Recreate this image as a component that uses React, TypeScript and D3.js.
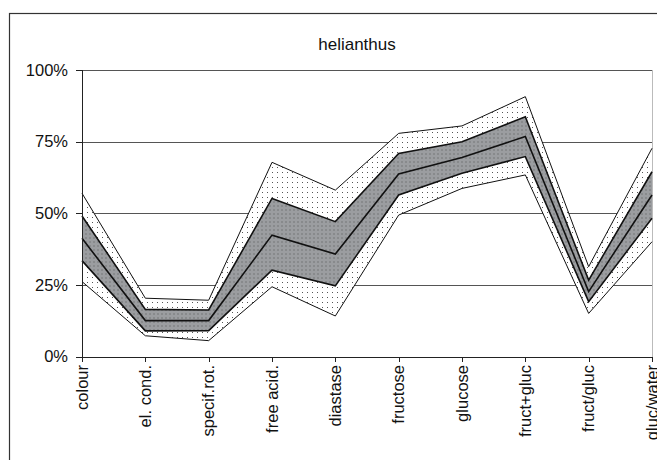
import React from "react";
import * as d3 from "d3";

const title = "helianthus";
const categories = ["colour", "el. cond.", "specif.rot.", "free acid.", "diastase", "fructose", "glucose", "fruct+gluc", "fruct/gluc", "gluc/water"];
const minVals = [26.2, 7.3, 5.6, 24.4, 14.2, 49.4, 58.7, 63.4, 15.1, 40.1];
const q1Vals = [33.5, 9.0, 9.1, 30.2, 24.7, 56.4, 64.0, 69.8, 19.2, 48.3];
const medVals = [41.3, 12.6, 12.6, 42.4, 35.8, 63.7, 69.5, 76.8, 22.7, 56.4];
const q3Vals = [49.1, 16.5, 16.3, 55.2, 47.1, 70.9, 75.0, 83.7, 26.7, 64.5];
const maxVals = [57.0, 20.4, 19.7, 67.8, 58.1, 77.9, 80.5, 90.7, 31.4, 72.7];
const yTicks = [0, 25, 50, 75, 100];

const W = 657, H = 460;
const FONT = "Liberation Sans, Arial, sans-serif";

export default function App() {
  const x = d3.scalePoint<string>().domain(categories).range([82, 652]);
  const y = d3.scaleLinear().domain([0, 100]).range([356.7, 70]);
  const area = (lo: number[], hi: number[]) =>
    d3.area<number>()
      .x((_, i) => x(categories[i]) as number)
      .y0((_, i) => y(lo[i]))
      .y1((_, i) => y(hi[i]))(lo.map((_, i) => i)) || "";
  const line = (v: number[]) =>
    d3.line<number>().x((_, i) => x(categories[i]) as number).y((d) => y(d))(v) || "";

  return (
    <svg width={W} height={H} style={{ position: "absolute", left: 0, top: 0, background: "#fff" }}>
      <defs>
        <pattern id="dotsW" width="5" height="5" patternUnits="userSpaceOnUse">
          <rect width="5" height="5" fill="#fff" />
          <rect x="2" y="2" width="1" height="1" fill="#555" />
        </pattern>
        <pattern id="dotsG" width="4" height="4" patternUnits="userSpaceOnUse">
          <rect width="4" height="4" fill="#9b9da0" />
          <rect x="1.5" y="1.5" width="1" height="1" fill="#505050" />
        </pattern>
      </defs>
      <rect x={9.5} y={13.5} width={700} height={500} fill="#fff" stroke="#333" strokeWidth={1.2} />
      <text x={357} y={50} textAnchor="middle" fontFamily={FONT} fontSize={17} fill="#111">{title}</text>
      {yTicks.map((t) => (
        <g key={t}>
          <line x1={82} x2={652} y1={Math.round(y(t)) + 0.5} y2={Math.round(y(t)) + 0.5} stroke={t === 0 ? "#222" : "#555"} strokeWidth={1} />
          <line x1={76} x2={82} y1={Math.round(y(t)) + 0.5} y2={Math.round(y(t)) + 0.5} stroke="#222" />
          <text x={68} y={y(t)} dy="0.35em" textAnchor="end" fontFamily={FONT} fontSize={16.5} fill="#111">{t}%</text>
        </g>
      ))}
      <line x1={652.5} x2={652.5} y1={70} y2={357} stroke="#bbb" />
      <path d={area(minVals, maxVals)} fill="url(#dotsW)" />
      <path d={area(q1Vals, q3Vals)} fill="url(#dotsG)" />
      <path d={line(minVals)} fill="none" stroke="#111" strokeWidth={1} />
      <path d={line(maxVals)} fill="none" stroke="#111" strokeWidth={1} />
      <path d={line(q1Vals)} fill="none" stroke="#111" strokeWidth={1.6} />
      <path d={line(medVals)} fill="none" stroke="#111" strokeWidth={1.6} />
      <path d={line(q3Vals)} fill="none" stroke="#111" strokeWidth={1.6} />
      <line x1={82.5} x2={82.5} y1={70} y2={357} stroke="#222" />
      {categories.map((c) => (
        <g key={c}>
          <line x1={Math.round(x(c) as number) + 0.5} x2={Math.round(x(c) as number) + 0.5} y1={357} y2={362} stroke="#222" />
          <text transform={`translate(${x(c)},365) rotate(-90)`} dy="0.35em" textAnchor="end" fontFamily={FONT} fontSize={16.5} fill="#111">{c}</text>
        </g>
      ))}
    </svg>
  );
}
